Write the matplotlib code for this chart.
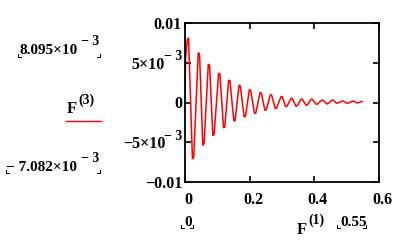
import matplotlib
matplotlib.use("Agg")
import matplotlib.pyplot as plt
from matplotlib.lines import Line2D

# F(1) -> x, F(3) -> y (in units of 1e-3); each peak/trough is read as a short flat top
f1 = [0.000, 0.002,
      0.007, 0.011, 0.023, 0.027, 0.041, 0.045, 0.055, 0.059,
      0.072, 0.076, 0.086, 0.090, 0.104, 0.108, 0.119, 0.123,
      0.135, 0.139, 0.151, 0.155, 0.167, 0.171, 0.183, 0.187,
      0.199, 0.203, 0.215, 0.219, 0.232, 0.236, 0.247, 0.251,
      0.264, 0.268, 0.279, 0.283, 0.297, 0.301, 0.311, 0.315,
      0.328, 0.332, 0.343, 0.347, 0.359, 0.363, 0.374, 0.378,
      0.390, 0.394, 0.405, 0.409, 0.423, 0.427, 0.438, 0.442,
      0.455, 0.459, 0.468, 0.472, 0.486, 0.490, 0.500, 0.504,
      0.518, 0.522, 0.530, 0.534, 0.548]
f3_milli = [1.3, 5.7,
            7.9, 8.095, -7.082, -6.9, 6.25, 6.1, -5.36, -5.2,
            4.8, 4.7, -4.14, -4.0, 3.67, 3.6, -3.17, -3.1,
            2.8, 2.75, -2.29, -2.25, 2.17, 2.1, -1.8, -1.75,
            1.6, 1.55, -1.37, -1.33, 1.25, 1.2, -0.96, -0.93,
            0.96, 0.93, -0.75, -0.72, 0.75, 0.72, -0.5, -0.48,
            0.51, 0.49, -0.46, -0.44, 0.42, 0.40, -0.34, -0.32,
            0.42, 0.40, -0.21, -0.20, 0.30, 0.29, -0.17, -0.16,
            0.30, 0.29, -0.08, -0.08, 0.17, 0.17, -0.08, -0.08,
            0.17, 0.17, -0.04, -0.04, 0.13]
f3 = [v * 1e-3 for v in f3_milli]

xticks = [0, 0.2, 0.4, 0.6]
xticklabels = ["0", "0.2", "0.4", "0.6"]
yticks = [-0.01, -0.005, 0, 0.005, 0.01]
# (main text, superscript) for each y tick
yticklabels = [("−0.01", ""), ("−5×10", "− 3"), ("0", ""),
               ("5×10", "− 3"), ("0.01", "")]

plt.rcParams["font.family"] = "Liberation Serif"
plt.rcParams["font.weight"] = "bold"

W, H = 408, 249
fig = plt.figure(figsize=(W / 100, H / 100), dpi=100)
ax = fig.add_axes([185 / W, 1 - 182 / H, 194 / W, 159 / H])

ax.plot(f1, f3, color="#ff0000", lw=1.1)
ax.set_xlim(0, 0.6)
ax.set_ylim(-0.01, 0.01)
ax.set_xticks(xticks)
ax.set_yticks(yticks)
ax.set_xticklabels([])
ax.set_yticklabels([])
ax.tick_params(direction="in", length=4.5, width=1.2, top=True, right=True)
for s in ax.spines.values():
    s.set_linewidth(1.3)

lab = dict(fontsize=11.5, fontweight="bold", family="Liberation Serif",
           textcoords="offset pixels", annotation_clip=False)
for xv, t in zip(xticks, xticklabels):
    ax.annotate(t, xy=(xv, 0), xycoords=("data", "axes fraction"),
                xytext=(3.5, -10), ha="center", va="top", **lab)
for yv, (t, sup) in zip(yticks, yticklabels):
    if sup:
        ax.annotate(t, xy=(0, yv), xycoords=("axes fraction", "data"),
                    xytext=(-20, -2), ha="right", va="center", **lab)
        ax.annotate(sup, xy=(0, yv), xycoords=("axes fraction", "data"),
                    xytext=(-3, 6), ha="right", va="center",
                    **{**lab, "fontsize": 10})
    else:
        ax.annotate(t, xy=(0, yv), xycoords=("axes fraction", "data"),
                    xytext=(-3, -1.5), ha="right", va="center", **lab)


def put(x, y, s, size=11, ha="left", va="baseline"):
    # place text at pixel coords (origin top-left)
    fig.text(x / W, 1 - y / H, s, fontsize=size, fontweight="bold",
             ha=ha, va=va, family="Liberation Serif")


def corners(x0, x1, y):
    # little Mathcad placeholder brackets
    k = 3
    for xs, ys in [([x0, x0, x0 + k], [y - k, y, y]),
                   ([x1 - k, x1, x1], [y, y, y - k])]:
        fig.add_artist(Line2D([v / W for v in xs], [1 - v / H for v in ys],
                              color="black", lw=0.7))


# y-range labels on the left
put(20, 54, "8.095×10")
put(81, 45, "− 3", size=10)
corners(18, 100, 57)
put(6, 171, "− 7.082×10")
put(81, 162, "− 3", size=10)
corners(6, 100, 173)

# y axis name and trace line
put(67, 113, "F", size=12)
put(78, 104, "(3)", size=10)
fig.add_artist(Line2D([66 / W, 101 / W], [1 - 121 / H, 1 - 121 / H],
                      color="#ff0000", lw=1.0))

# x-range labels at the bottom
put(184, 226, "0")
corners(181, 193, 228)
put(297, 234, "F", size=12)
put(308, 224, "(1)", size=10)
put(340, 226, "0.55")
corners(337, 366, 228)

fig.savefig("out.png", dpi=100)
